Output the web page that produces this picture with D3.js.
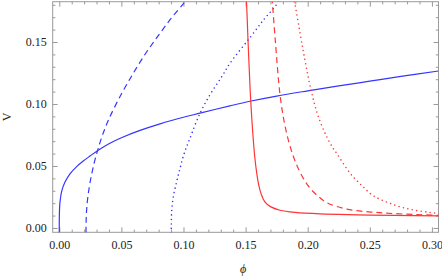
<!DOCTYPE html>
<html><head><meta charset="utf-8">
<script src="https://cdn.jsdelivr.net/npm/d3@7"></script>
<style>
html,body{margin:0;padding:0;background:#fff;}
svg{display:block;}
.tick text{font-family:"Liberation Serif","Times New Roman",serif;font-size:12px;fill:#222;}
.tick line{stroke:#999;}
</style></head>
<body>
<svg id="chart" width="442" height="277"></svg>
<script>
const xTicks = [0.00, 0.05, 0.10, 0.15, 0.20, 0.25, 0.30];
const yTicks = [0.00, 0.05, 0.10, 0.15];
const xMinor = [0.01,0.02,0.03,0.04,0.06,0.07,0.08,0.09,0.11,0.12,0.13,0.14,0.16,0.17,0.18,0.19,0.21,0.22,0.23,0.24,0.26,0.27,0.28,0.29];
const yMinor = [0.01,0.02,0.03,0.04,0.06,0.07,0.08,0.09,0.11,0.12,0.13,0.14,0.16,0.17,0.18];

// blue curves (phi, V)
const blueSolid = [[0,-0.004],[0,0.006],[0.0002,0.015],[0.0006,0.021],[0.0019,0.0295],[0.0046,0.037],[0.0086,0.0437],[0.014,0.0495],[0.0193,0.054],[0.025,0.0582],[0.031,0.0625],[0.040,0.068],[0.050,0.0728],[0.065,0.0787],[0.0811,0.084],[0.100,0.0893],[0.1133,0.0926],[0.1374,0.0985],[0.1535,0.1022],[0.175,0.1064],[0.200,0.1106],[0.225,0.1146],[0.250,0.1184],[0.275,0.1222],[0.3053,0.1266]];
const blueDashed = [[0.0215,-0.004],[0.0216,0.005],[0.022,0.0145],[0.023,0.025],[0.025,0.038],[0.028,0.052],[0.031,0.063],[0.035,0.0755],[0.040,0.088],[0.050,0.108],[0.060,0.1255],[0.070,0.1415],[0.080,0.1555],[0.090,0.169],[0.100,0.181],[0.104,0.186]];
const blueDotted = [[0.0901,-0.004],[0.0902,0.002],[0.0905,0.0131],[0.0918,0.0252],[0.0945,0.0373],[0.0972,0.0481],[0.1006,0.0602],[0.1047,0.071],[0.1133,0.0925],[0.122,0.1085],[0.1308,0.122],[0.1374,0.1328],[0.1535,0.1535],[0.165,0.1685],[0.175,0.1805],[0.177,0.186]];

// red curves
const redSolid = [[0.1504,0.186],[0.1507,0.1825],[0.152,0.150],[0.1535,0.115],[0.1541,0.1032],[0.1552,0.085],[0.1562,0.071],[0.1575,0.056],[0.159,0.044],[0.1605,0.035],[0.1625,0.0275],[0.1655,0.021],[0.170,0.0172],[0.1777,0.0143],[0.190,0.0125],[0.21,0.0113],[0.24,0.0106],[0.27,0.0101],[0.306,0.0098]];
const redDashed = [[0.1712,0.186],[0.1715,0.1825],[0.174,0.150],[0.1777,0.1074],[0.181,0.086],[0.1845,0.0705],[0.188,0.059],[0.1915,0.050],[0.1965,0.040],[0.2019,0.032],[0.2085,0.0255],[0.2153,0.0205],[0.2314,0.0152],[0.2582,0.0123],[0.2878,0.0108],[0.306,0.0102]];
const redDotted = [[0.1888,0.186],[0.1892,0.1825],[0.1898,0.180],[0.196,0.145],[0.2025,0.112],[0.2085,0.090],[0.2153,0.0736],[0.2206,0.064],[0.2233,0.0602],[0.2341,0.0441],[0.2407,0.037],[0.2448,0.033],[0.2528,0.026],[0.2663,0.0198],[0.2824,0.015],[0.2985,0.0125],[0.306,0.0116]];

const svg = d3.select("#chart");
const L = 52.7, R = 438.5, T = 1.7, B = 232.3;
const x = d3.scaleLinear().domain([-0.0053, 0.3053]).range([L, R]);
const y = d3.scaleLinear().domain([-0.0035, 0.1825]).range([B, T]);

svg.append("defs").append("clipPath").attr("id","clip")
  .append("rect").attr("x",L).attr("y",T).attr("width",R-L).attr("height",B-T);

const fmt = d3.format(".2f");
function drawAxis(gen, tx, ty) {
  const g = svg.append("g").attr("transform",`translate(${tx},${ty})`).call(gen);
  g.select(".domain").remove();
  return g;
}
// major ticks
drawAxis(d3.axisBottom(x).tickValues(xTicks).tickSize(-5).tickPadding(8).tickFormat(fmt), 0, B);
drawAxis(d3.axisLeft(y).tickValues(yTicks).tickSize(-5).tickPadding(6).tickFormat(fmt), L, 0);
drawAxis(d3.axisTop(x).tickValues(xTicks).tickSize(-5).tickFormat(""), 0, T);
drawAxis(d3.axisRight(y).tickValues(yTicks).tickSize(-5).tickFormat(""), R, 0);
// minor ticks
drawAxis(d3.axisBottom(x).tickValues(xMinor).tickSize(-2.7).tickFormat(""), 0, B);
drawAxis(d3.axisLeft(y).tickValues(yMinor).tickSize(-2.7).tickFormat(""), L, 0);
drawAxis(d3.axisTop(x).tickValues(xMinor).tickSize(-2.7).tickFormat(""), 0, T);
drawAxis(d3.axisRight(y).tickValues(yMinor).tickSize(-2.7).tickFormat(""), R, 0);

svg.append("rect").attr("x",L).attr("y",T).attr("width",R-L).attr("height",B-T)
  .attr("fill","none").attr("stroke","#999").attr("stroke-width",1);

const line = d3.line().x(d=>x(d[0])).y(d=>y(d[1])).curve(d3.curveCatmullRom.alpha(0.5));
const plot = svg.append("g").attr("clip-path","url(#clip)");
const blue = "#3535ff", red = "#ff3535";
const series = [
  {data: blueSolid, color: blue, dash: null},
  {data: blueDashed, color: blue, dash: "6,4"},
  {data: blueDotted, color: blue, dash: "0,4.5", cap: "round"},
  {data: redSolid, color: red, dash: null},
  {data: redDashed, color: red, dash: "6,4"},
  {data: redDotted, color: red, dash: "0,4.5", cap: "round"}
];
series.forEach(s => {
  plot.append("path").attr("d", line(s.data)).attr("fill","none")
    .attr("stroke", s.color)
    .attr("stroke-width", s.cap ? 1.6 : 1.2)
    .attr("stroke-linecap", s.cap || "butt")
    .attr("stroke-dasharray", s.dash);
});

svg.append("text").attr("transform","translate(11,117) rotate(-90)")
  .attr("text-anchor","middle").attr("font-family","Liberation Serif, serif")
  .attr("font-size",12).attr("fill","#222").text("V");
svg.append("text").attr("x",243).attr("y",273)
  .attr("text-anchor","middle").attr("font-family","Liberation Serif, serif")
  .attr("font-style","italic").attr("font-size",12).attr("fill","#222").text("ϕ");
</script>
</body></html>
